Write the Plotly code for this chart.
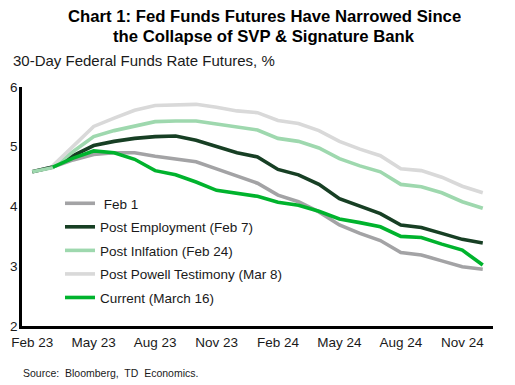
import plotly.graph_objects as go

months = ["Feb 23", "Mar 23", "Apr 23", "May 23", "Jun 23", "Jul 23", "Aug 23", "Sep 23",
          "Oct 23", "Nov 23", "Dec 23", "Jan 24", "Feb 24", "Mar 24", "Apr 24", "May 24",
          "Jun 24", "Jul 24", "Aug 24", "Sep 24", "Oct 24", "Nov 24", "Dec 24"]
tick_labels = ["Feb 23", "May 23", "Aug 23", "Nov 23", "Feb 24", "May 24", "Aug 24", "Nov 24"]

feb1 = [4.58, 4.66, 4.78, 4.87, 4.90, 4.90, 4.84, 4.80, 4.75, 4.63, 4.51, 4.39,
        4.19, 4.08, 3.91, 3.69, 3.55, 3.43, 3.23, 3.19, 3.09, 2.99, 2.95]
post_employment = [4.58, 4.66, 4.85, 5.02, 5.09, 5.14, 5.17, 5.18, 5.11, 5.00, 4.90, 4.83,
                   4.62, 4.53, 4.37, 4.13, 4.00, 3.88, 3.69, 3.65, 3.55, 3.45, 3.39]
post_inflation = [4.58, 4.65, 4.92, 5.17, 5.27, 5.35, 5.42, 5.43, 5.43, 5.38, 5.33, 5.28,
                  5.14, 5.09, 4.98, 4.80, 4.68, 4.58, 4.37, 4.33, 4.23, 4.08, 3.97]
post_powell = [None, 4.68, 5.01, 5.34, 5.48, 5.61, 5.69, 5.70, 5.71, 5.66, 5.60, 5.57,
               5.44, 5.39, 5.27, 5.09, 4.96, 4.85, 4.63, 4.60, 4.49, 4.34, 4.23]
current = [None, 4.66, 4.81, 4.93, 4.90, 4.79, 4.60, 4.53, 4.41, 4.27, 4.22, 4.17,
           4.07, 4.02, 3.92, 3.79, 3.73, 3.66, 3.50, 3.48, 3.37, 3.27, 3.02]

series = [
    ("\u00a0Feb 1", feb1, "#A3A3A5"),
    ("Post Employment (Feb 7)", post_employment, "#173F24"),
    ("Post Inlfation (Feb 24)", post_inflation, "#9ED8AE"),
    ("Post Powell Testimony (Mar 8)", post_powell, "#D9D9D9"),
    ("Current (March 16)", current, "#00B32D"),
]

fig = go.Figure()
for i, (name, vals, color) in enumerate(series):
    fig.add_trace(go.Scatter(
        x=months, y=vals, name=name, mode="lines",
        line=dict(color=color, width=3.6),
        legendgroup=f"g{i}", connectgaps=False,
    ))

font_family = "Liberation Sans, Arial, sans-serif"

# the page places the figure 8px in from the top-left corner (body margin),
# so the figure is drawn 8px smaller and all pixel targets are offset by 8.
OFF = 8
W, H = 515 - OFF, 385 - OFF
L, T = 22 - OFF, 87 - OFF
R = W - (493 - OFF)
B = H - (326 - OFF)
plot_w = W - L - R
plot_h = H - T - B


def px_x(px):
    return (px - OFF - L) / plot_w


def px_y(py):
    return 1 - (py - OFF - T) / plot_h


fig.update_layout(
    width=W, height=H,
    margin=dict(l=L, r=R, t=T, b=B, autoexpand=False),
    paper_bgcolor="white", plot_bgcolor="white",
    font=dict(family=font_family, size=13.5, color="#1a1a1a"),
    showlegend=True,
    legend=dict(
        x=px_x(60), y=px_y(188), xanchor="left", yanchor="top",
        bgcolor="rgba(0,0,0,0)", borderwidth=0,
        font=dict(family=font_family, size=13.5, color="#1a1a1a"),
        tracegroupgap=3,
    ),
    xaxis=dict(
        type="category", categoryorder="array", categoryarray=months,
        range=[-0.5, len(months) - 0.5], automargin=False,
        tickmode="array", tickvals=tick_labels, ticktext=tick_labels,
        showgrid=False, zeroline=False,
        showline=True, linecolor="black", linewidth=2.5,
        ticks="", ticklabelstandoff=2,
        tickfont=dict(size=13.5, color="#1a1a1a"),
    ),
    yaxis=dict(
        range=[2, 6], tickmode="array", tickvals=[2, 3, 4, 5, 6], automargin=False,
        showgrid=False, zeroline=False,
        showline=True, linecolor="black", linewidth=2.5,
        ticks="", ticklabelstandoff=-1,
        tickfont=dict(size=13.5, color="#1a1a1a"),
    ),
    annotations=[
        dict(text="<b>Chart 1: Fed Funds Futures Have Narrowed Since</b>",
             xref="paper", yref="paper", x=px_x(264), y=px_y(16), xanchor="center", yanchor="middle",
             height=15, borderpad=0,
             showarrow=False, font=dict(family=font_family, size=16.7, color="black")),
        dict(text="<b>the Collapse of SVP & Signature Bank</b>",
             xref="paper", yref="paper", x=px_x(264), y=px_y(36), xanchor="center", yanchor="middle",
             showarrow=False, font=dict(family=font_family, size=16.7, color="black")),
        dict(text="30-Day Federal Funds Rate Futures, %",
             xref="paper", yref="paper", x=px_x(11), y=px_y(60), xanchor="left", yanchor="middle",
             showarrow=False, font=dict(family=font_family, size=15, color="#1a1a1a")),
        dict(text="Source:  Bloomberg,  TD  Economics.",
             xref="paper", yref="paper", x=px_x(21), y=px_y(373), xanchor="left", yanchor="middle",
             showarrow=False, font=dict(family=font_family, size=10.5, color="#1a1a1a")),
    ],
)

fig.write_html("out.html")
